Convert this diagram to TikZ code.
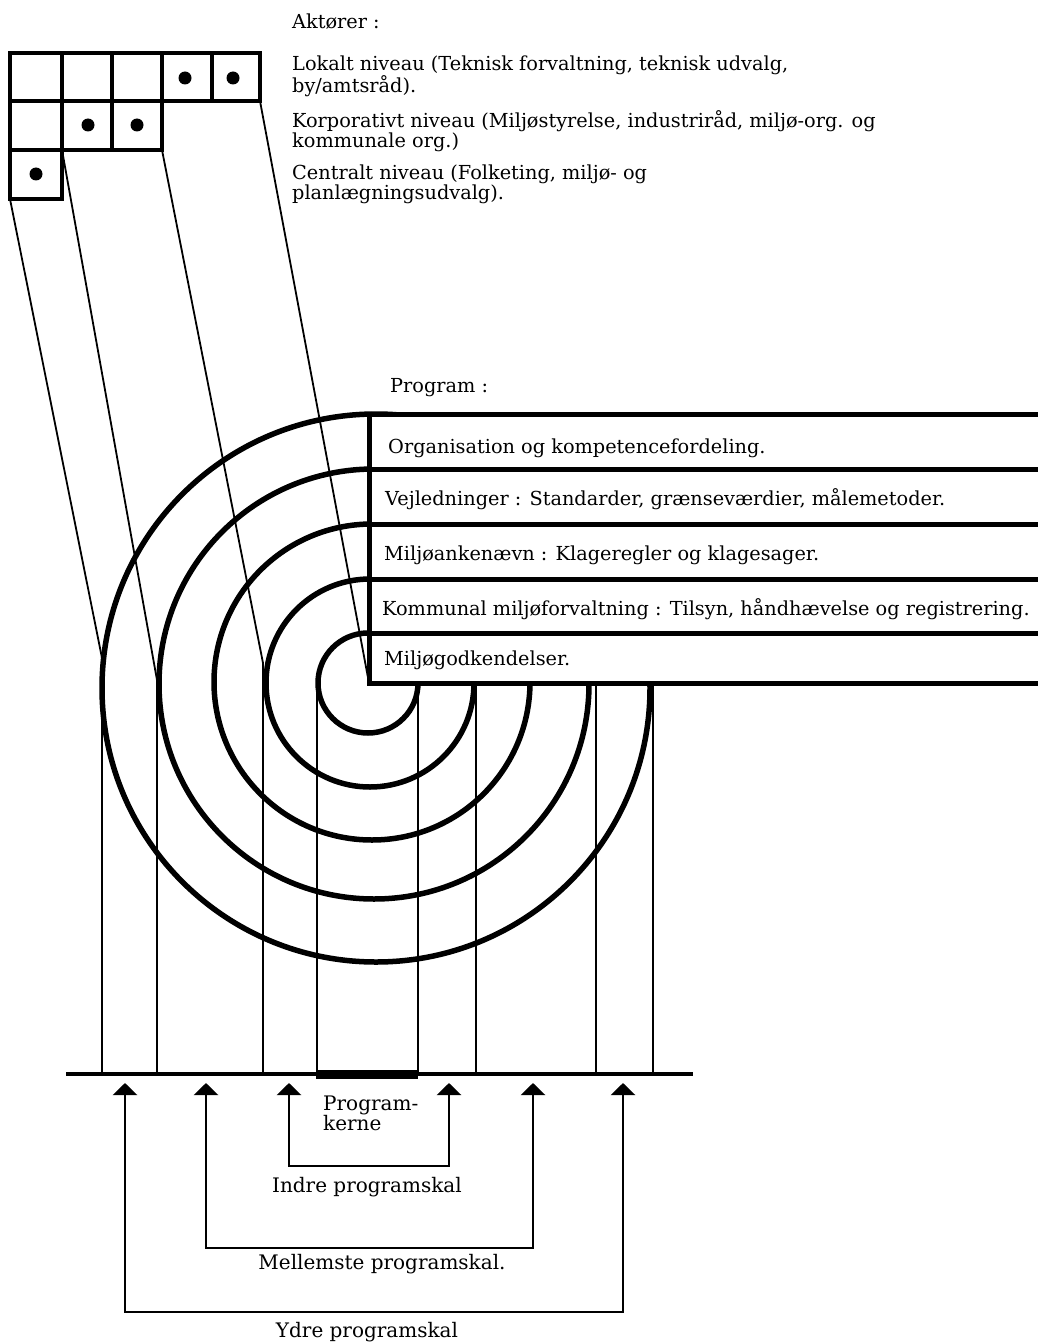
\documentclass[tikz,border=0pt]{standalone}
\usepackage{fontspec}
\setmainfont{DejaVu Serif}
\usetikzlibrary{arrows.meta}
\begin{document}
\begin{tikzpicture}[x=1pt,y=-1pt,
  txt/.style={inner sep=0pt,anchor=west,font=\fontsize{19.3}{18.5}\selectfont,align=left},
  btxt/.style={inner sep=0pt,anchor=west,font=\fontsize{20}{20}\selectfont,align=left},
  ctxt/.style={inner sep=0pt,font=\fontsize{20}{20}\selectfont},
  gridline/.style={line width=3.5pt,line join=miter},
  dotmark/.style={fill=black},
  ring/.style={line width=5.5pt},
  boxline/.style={line width=5pt},
  thinline/.style={line width=1.8pt},
  baseline/.style={line width=4pt},
  arr/.style={line width=2.4pt,{Triangle[width=24pt,length=12pt]}-{Triangle[width=24pt,length=12pt]}}
]
\useasboundingbox[fill=white] (0,0) rectangle (1038,1343);

% ---------- actor grid ----------
\draw[gridline] (10,53) rectangle (260,101);
\foreach \xx in {62,112,162,212} \draw[gridline] (\xx,53) -- (\xx,101);
\draw[gridline] (10,101) rectangle (162,150);
\foreach \xx in {62,112} \draw[gridline] (\xx,101) -- (\xx,150);
\draw[gridline] (10,150) rectangle (62,199);
\foreach \p in {(185,78),(233,78),(88,125),(137,125),(36,174)}
  \fill[dotmark] \p circle[radius=6.5pt];

% named points
\coordinate (g1) at (10,199);
\coordinate (g2) at (62,150);
\coordinate (g3) at (162,150);
\coordinate (g4) at (260,101);
\coordinate (j1) at (102,658);
\coordinate (j2) at (157,680);
\coordinate (j3) at (263,663);
\coordinate (corner) at (369,683);

% ---------- rings ----------
\draw[ring] (376,688) circle[radius=274pt];
\draw[ring] (374,684) circle[radius=215pt];
\draw[ring] (372,682) circle[radius=158pt];
\draw[ring] (370,683) circle[radius=104pt];
\draw[ring] (368,683) circle[radius=50pt];

% ---------- program table ----------
\fill[white] (369,414) rectangle (1040,683);
\foreach \yy in {414,469,524,579,633,683}
  \draw[boxline] (369,\yy) -- (1040,\yy);
\draw[boxline] (369,411.5) -- (369,685.5);

\node[txt] (prog) at (390,388) {Program :};
\node[txt] (r1) at (388,448) {Organisation og kompetencefordeling.};
\node[txt] (r2) at (385,499) {Vejledninger : Standarder, grænseværdier, målemetoder.};
\node[txt] (r3) at (384,555) {Miljøankenævn : Klageregler og klagesager.};
\node[txt] (r4) at (382,609) {Kommunal miljøforvaltning : Tilsyn, håndhævelse og registrering.};
\node[txt] (r5) at (384,660) {Miljøgodkendelser.};

% ---------- actor texts ----------
\node[txt] (akt) at (292,22) {Aktører :};
\node[txt] (lok) at (292,76) {Lokalt niveau (Teknisk forvaltning, teknisk udvalg,\\by/amtsråd).};
\node[txt] (kor) at (292,131) {Korporativt niveau (Miljøstyrelse, industriråd, miljø-org. og\\kommunale org.)};
\node[txt] (cen) at (292,184) {Centralt niveau (Folketing, miljø- og\\planlægningsudvalg).};

% ---------- slanted connectors ----------
\coordinate (b1) at (102,1074);
\coordinate (b2) at (157,1074);
\coordinate (b3) at (263,1074);
\draw[thinline] (g1) -- (j1) -- (b1);
\draw[thinline] (g2) -- (j2) -- (b2);
\draw[thinline] (g3) -- (j3) -- (b3);
\draw[thinline] (g4) -- (corner);

% ---------- verticals ----------
\foreach \xx in {317,418,476,596,653}
  \draw[thinline] (\xx,683) -- (\xx,1074);

% ---------- baseline ----------
\coordinate (bl) at (66,1074);
\coordinate (br) at (693,1074);
\draw[baseline] (bl) -- (br);
\fill (316,1070) rectangle (418,1079);

% ---------- brackets ----------
\coordinate (a1) at (289,1083); \coordinate (a2) at (449,1083);
\coordinate (m1) at (206,1083); \coordinate (m2) at (533,1083);
\coordinate (o1) at (125,1083); \coordinate (o2) at (623,1083);
\coordinate (ib) at (369,1166);
\coordinate (mb) at (369,1248);
\coordinate (ob) at (369,1312);
\draw[arr] (a1) |- (ib) -| (a2);
\draw[arr] (m1) |- (mb) -| (m2);
\draw[arr] (o1) |- (ob) -| (o2);

\node[btxt] (kerne) at (323,1113) {Program-\\kerne};
\node[ctxt] (indre) at (367,1187) {Indre programskal};
\node[ctxt] (mell) at (382,1264) {Mellemste programskal.};
\node[ctxt] (ydre) at (367,1332) {Ydre programskal};
\end{tikzpicture}
\end{document}
